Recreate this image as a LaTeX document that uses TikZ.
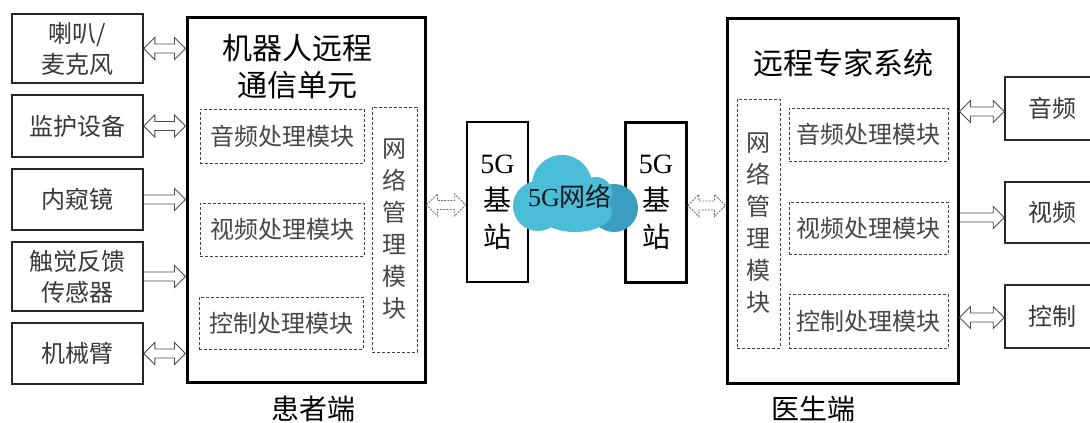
\documentclass[tikz,border=0pt]{standalone}
\usepackage{fontspec}
\setmainfont{Liberation Serif}
\newfontfamily\cjk{Noto Sans CJK SC}
\newfontfamily\lat{Liberation Serif}
\usetikzlibrary{calc}
\definecolor{cloudL}{HTML}{4BBDD8}
\definecolor{cloudD}{HTML}{3A9DC2}
\newcommand\dblarrow[3][]{%
\draw[arrowline,#1] let \p1=#2, \p2=#3 in
 (\x1,\y1) -- (\x1+11pt,\y1+11pt) -- (\x1+11pt,\y1+4.5pt) -- (\x2-11pt,\y1+4.5pt) -- (\x2-11pt,\y1+11pt) -- (\x2,\y1) -- (\x2-11pt,\y1-11pt) -- (\x2-11pt,\y1-4.5pt) -- (\x1+11pt,\y1-4.5pt) -- (\x1+11pt,\y1-11pt) -- cycle;}
\newcommand\sgarrow[3][]{%
\draw[arrowline,#1] let \p1=#2, \p2=#3 in
 (\x1,\y1+4.5pt) -- (\x2-11pt,\y1+4.5pt) -- (\x2-11pt,\y1+11pt) -- (\x2,\y1) -- (\x2-11pt,\y1-11pt) -- (\x2-11pt,\y1-4.5pt) -- (\x1,\y1-4.5pt);}
\begin{document}
\begin{tikzpicture}[x=1pt,y=-1pt,
 dev/.style={draw=black!85, line width=1.6pt, inner sep=0pt, align=center, font=\cjk\fontsize{24}{31}\selectfont, text=black!78},
 big/.style={draw=black, line width=3pt, inner sep=0pt},
 bsbox/.style={draw=black, line width=2.6pt, inner sep=0pt, minimum width=61pt, minimum height=160pt, align=center, font=\fontsize{28}{37}\selectfont, text=black},
 dbox/.style={draw=black!75, dash pattern=on 3pt off 2pt, line width=0.9pt, inner sep=0pt, align=center, font=\cjk\fontsize{24}{32}\selectfont, text=black!72},
 ttl/.style={inner sep=0pt, align=center, font=\cjk\fontsize{30}{37}\selectfont, text=black},
 side/.style={inner sep=0pt, font=\cjk\fontsize{28}{28}\selectfont, text=black},
 arrowline/.style={draw=black!70, line width=0.9pt, line join=miter},
 darrow/.style={draw=black!55, dash pattern=on 2pt off 1.2pt, line width=0.9pt}]
\useasboundingbox (0,0) rectangle (1090,423);
\fill[white] (0,0) rectangle (1090,423);
% left devices
\node[dev, minimum width=131pt, minimum height=69pt] (mic) at (77.5,48.5) {喇叭/\\麦克风};
\node[dev, minimum width=131pt, minimum height=62pt] (mon) at (77.5,126) {监护设备};
\node[dev, minimum width=131pt, minimum height=61pt] (endo) at (77.5,199.5) {内窥镜};
\node[dev, minimum width=131pt, minimum height=69pt] (hap) at (77.5,276.5) {触觉反馈\\传感器};
\node[dev, minimum width=131pt, minimum height=61pt] (arm) at (77.5,353.5) {机械臂};
% patient unit
\node[big, minimum width=238pt, minimum height=365pt] (pu) at (306,199.5) {};
\node[ttl] (put) at (297,66.5) {机器人远程\\通信单元};
\node[dbox, minimum width=164pt, minimum height=54pt] (ap1) at (282,136) {音频处理模块};
\node[dbox, minimum width=164pt, minimum height=53pt] (vp1) at (282,229.5) {视频处理模块};
\node[dbox, minimum width=164pt, minimum height=52pt] (cp1) at (281,323) {控制处理模块};
\node[dbox, minimum width=45pt, minimum height=245pt] (nm1) at (394.5,229.5) {网\\络\\管\\理\\模\\块};
\node[side] (pl) at (313,409) {患者端};
% base stations
\node[bsbox] (bs1) at (497.5,202) {5G\\{\cjk 基}\\{\cjk 站}};
\node[bsbox] (bs2) at (656,202.5) {5G\\{\cjk 基}\\{\cjk 站}};
% cloud
\fill[cloudD] (614,208) circle[radius=24pt];
\fill[cloudL] (562,185) circle[radius=30pt] (538,206) circle[radius=25pt] (596,193) circle[radius=16pt];
\fill[cloudL] (575,212) ellipse[x radius=37pt, y radius=20pt];
\node[inner sep=0pt, font=\fontsize{26}{26}\selectfont, text=black!90] (net) at (570,196) {5G{\cjk 网络}};
% expert system
\node[big, minimum width=231pt, minimum height=365pt] (es) at (842.5,200.5) {};
\node[ttl] (est) at (843,63) {远程专家系统};
\node[dbox, minimum width=43pt, minimum height=249pt] (nm2) at (758.5,223.5) {网\\络\\管\\理\\模\\块};
\node[dbox, minimum width=159pt, minimum height=53pt] (ap2) at (868.5,134.5) {音频处理模块};
\node[dbox, minimum width=159pt, minimum height=52pt] (vp2) at (868.5,228) {视频处理模块};
\node[dbox, minimum width=159pt, minimum height=54pt] (cp2) at (868.5,321) {控制处理模块};
\node[side] (dl) at (813,409) {医生端};
% right devices
\node[dev, minimum width=94pt, minimum height=63pt] (aud) at (1052,108.5) {音频};
\node[dev, minimum width=94pt, minimum height=61pt] (vid) at (1052,212.5) {视频};
\node[dev, minimum width=94pt, minimum height=63pt] (ctl) at (1052,316.5) {控制};
% arrows
\dblarrow{(mic.east)}{(pu.west |- mic.east)}
\dblarrow{(mon.east)}{(pu.west |- mon.east)}
\sgarrow{(endo.east)}{(pu.west |- endo.east)}
\sgarrow{(hap.east)}{(pu.west |- hap.east)}
\dblarrow{(arm.east)}{(pu.west |- arm.east)}
\dblarrow[darrow]{($(pu.east |- bs1.west)+(0,3)$)}{($(bs1.west)+(0,3)$)}
\dblarrow[darrow]{($(bs2.east)+(0,3)$)}{($(es.west |- bs2.east)+(0,3)$)}
\dblarrow{($(es.east |- aud.west)+(0,3)$)}{($(aud.west)+(0,3)$)}
\sgarrow{($(es.east |- vid.west)+(0,5)$)}{($(vid.west)+(0,5)$)}
\dblarrow{($(es.east |- ctl.west)+(0,1)$)}{($(ctl.west)+(0,1)$)}
\end{tikzpicture}
\end{document}
